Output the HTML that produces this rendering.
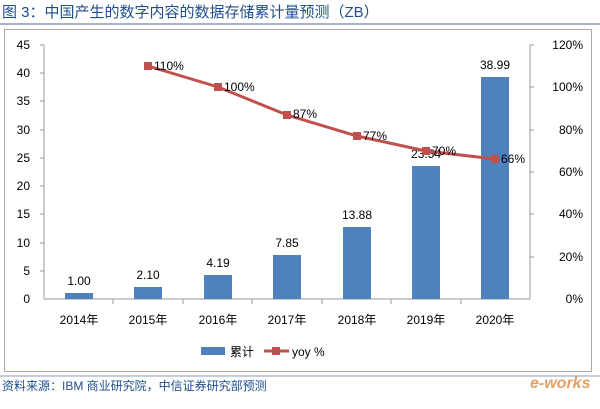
<!DOCTYPE html><html><head><meta charset="utf-8"><style>
body{margin:0;width:600px;height:404px;background:#fff;overflow:hidden;font-family:"Liberation Sans","Noto Sans CJK SC",sans-serif}
</style></head><body>
<svg width="600" height="404" xmlns="http://www.w3.org/2000/svg" font-family="Liberation Sans, Noto Sans CJK SC, sans-serif">
<text x="2" y="17" font-size="15" fill="#1f4e8c">图 3：中国产生的数字内容的数据存储累计量预测（ZB）</text>
<line x1="0" y1="24" x2="600" y2="24" stroke="#8a9bb5" stroke-width="1.5"/>
<rect x="4.5" y="29.5" width="587" height="342" fill="#fff" stroke="#aaa"/>
<g stroke="#999" stroke-width="1">
<line x1="44" y1="45" x2="44" y2="299"/><line x1="530" y1="45" x2="530" y2="299"/>
<line x1="44" y1="299" x2="530" y2="299"/>
</g>
<g stroke="#999">
<line x1="40" y1="45" x2="44" y2="45"/><line x1="40" y1="73" x2="44" y2="73"/><line x1="40" y1="101" x2="44" y2="101"/><line x1="40" y1="130" x2="44" y2="130"/><line x1="40" y1="158" x2="44" y2="158"/><line x1="40" y1="186" x2="44" y2="186"/><line x1="40" y1="214" x2="44" y2="214"/><line x1="40" y1="243" x2="44" y2="243"/><line x1="40" y1="271" x2="44" y2="271"/>
<line x1="530" y1="45" x2="534" y2="45"/><line x1="530" y1="87" x2="534" y2="87"/><line x1="530" y1="130" x2="534" y2="130"/><line x1="530" y1="172" x2="534" y2="172"/><line x1="530" y1="214" x2="534" y2="214"/><line x1="530" y1="257" x2="534" y2="257"/>
<line x1="113" y1="299" x2="113" y2="304"/><line x1="183" y1="299" x2="183" y2="304"/><line x1="252" y1="299" x2="252" y2="304"/><line x1="322" y1="299" x2="322" y2="304"/><line x1="391" y1="299" x2="391" y2="304"/><line x1="461" y1="299" x2="461" y2="304"/>
</g>
<g font-size="12" fill="#000" text-anchor="end">
<text x="30" y="49">45</text><text x="30" y="77">40</text><text x="30" y="105">35</text><text x="30" y="134">30</text><text x="30" y="162">25</text><text x="30" y="190">20</text><text x="30" y="218">15</text><text x="30" y="247">10</text><text x="30" y="275">5</text><text x="30" y="303">0</text>
</g>
<g font-size="12" fill="#000" text-anchor="end">
<text x="583" y="49">120%</text><text x="583" y="91">100%</text><text x="583" y="134">80%</text><text x="583" y="176">60%</text><text x="583" y="218">40%</text><text x="583" y="261">20%</text><text x="583" y="303">0%</text>
</g>
<g fill="#4f81bd">
<rect x="65" y="293" width="28" height="6"/>
<rect x="134" y="287" width="28" height="12"/>
<rect x="204" y="275" width="28" height="24"/>
<rect x="273" y="255" width="28" height="44"/>
<rect x="343" y="227" width="28" height="72"/>
<rect x="412" y="166" width="28" height="133"/>
<rect x="481" y="77" width="28" height="222"/>
</g>
<g font-size="12" fill="#000" text-anchor="middle">
<text x="79" y="285">1.00</text><text x="148" y="279">2.10</text><text x="218" y="267">4.19</text><text x="287" y="247">7.85</text><text x="357" y="219">13.88</text><text x="426" y="158">23.54</text><text x="495" y="69">38.99</text>
</g>
<polyline points="148,66 218,87 287,115 357,136 426,151 495,159" fill="none" stroke="#c0504d" stroke-width="3"/>
<g fill="#c0504d">
<rect x="144" y="62" width="8" height="8"/><rect x="214" y="83" width="8" height="8"/><rect x="283" y="111" width="8" height="8"/><rect x="353" y="132" width="8" height="8"/><rect x="422" y="147" width="8" height="8"/><rect x="491" y="155" width="8" height="8"/>
</g>
<g font-size="12" fill="#000">
<text x="154" y="70">110%</text><text x="224" y="91">100%</text><text x="293" y="118">87%</text><text x="363" y="140">77%</text><text x="432" y="155">70%</text><text x="501" y="163">66%</text>
</g>
<g font-size="12" fill="#000" text-anchor="middle">
<text x="79" y="324">2014年</text><text x="148" y="324">2015年</text><text x="218" y="324">2016年</text><text x="287" y="324">2017年</text><text x="357" y="324">2018年</text><text x="426" y="324">2019年</text><text x="495" y="324">2020年</text>
</g>
<rect x="201" y="347" width="24" height="8" fill="#4f81bd"/>
<text x="230" y="356" font-size="12">累计</text>
<line x1="264" y1="351" x2="289" y2="351" stroke="#c0504d" stroke-width="3"/>
<rect x="272" y="347" width="8" height="8" fill="#c0504d"/>
<text x="292" y="356" font-size="12">yoy %</text>
<line x1="0" y1="376" x2="600" y2="376" stroke="#8a9bb5"/>
<text x="2" y="390" font-size="12" fill="#1f4e8c">资料来源：IBM 商业研究院，中信证券研究部预测</text>
<text x="530" y="388" font-size="16" font-style="italic" font-weight="bold" fill="#e8a060">e-works</text>
</svg>
</body></html>
